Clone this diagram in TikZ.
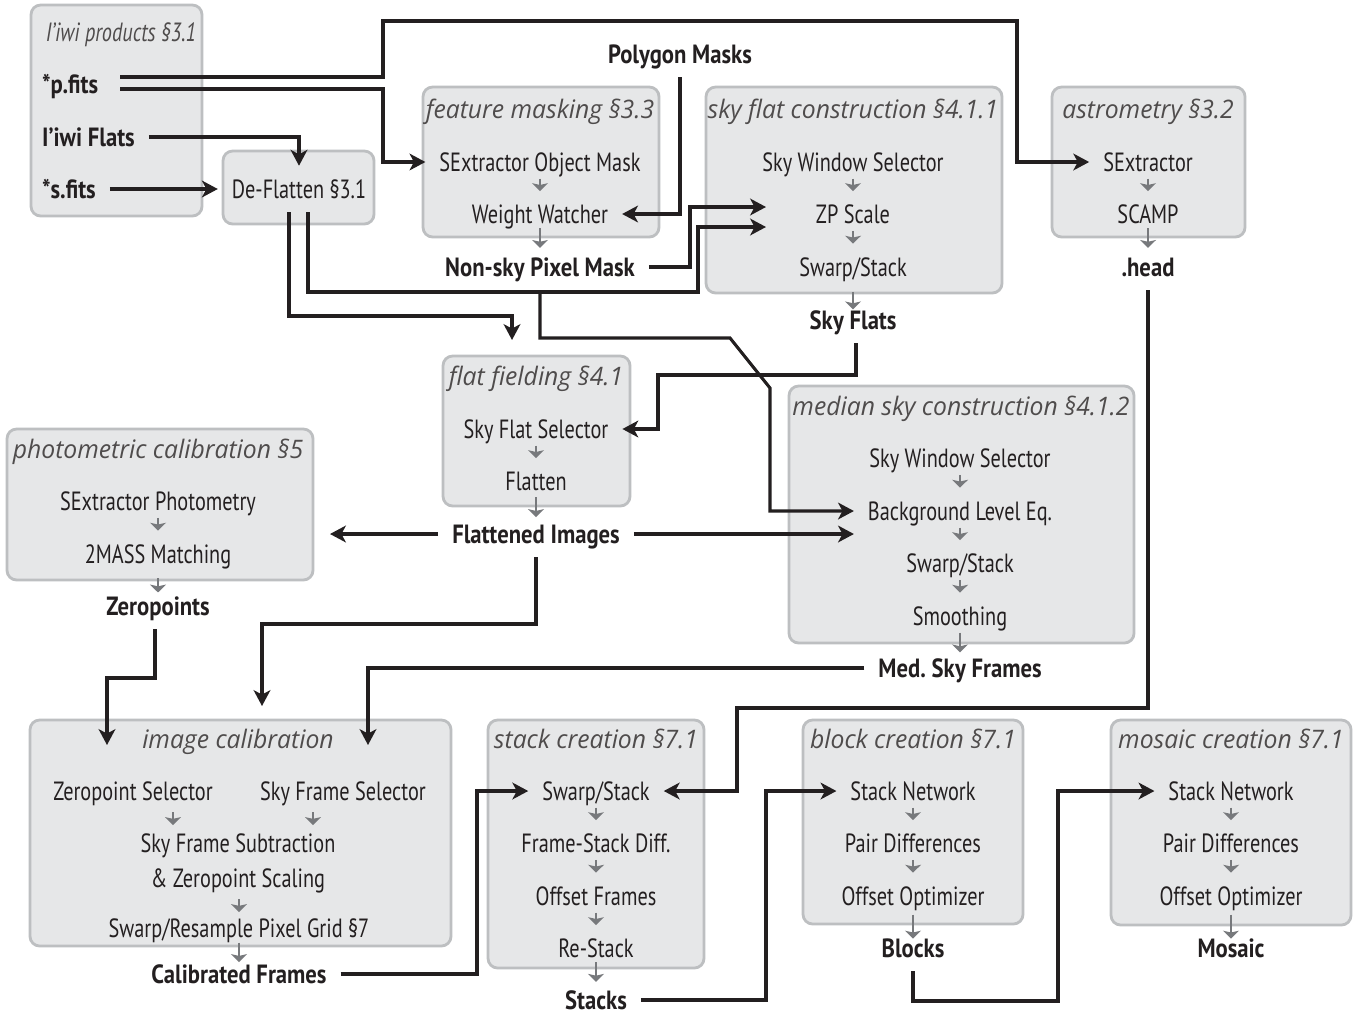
\documentclass[tikz,border=0pt]{standalone}
\usepackage{fontspec}
\setmainfont[FakeStretch=0.77, BoldFeatures={FakeStretch=0.86}]{PT Sans}
\newfontfamily\ttlfont[FakeStretch=0.97]{Open Sans}
\usepackage{xcolor}
\usetikzlibrary{arrows.meta,calc,fit}

\definecolor{boxfill}{HTML}{E6E7E8}
\definecolor{boxline}{HTML}{BDBFC1}
\definecolor{ink}{HTML}{231F20}
\definecolor{subgray}{HTML}{77797C}
\frenchspacing

\begin{document}
\begin{tikzpicture}[x=0.02cm, y=-0.02cm,
    box/.style={rounded corners=5.5pt, draw=boxline, fill=boxfill, line width=1.6pt, inner sep=0pt},
    ttl/.style={font=\ttlfont\itshape\fontsize{14.5}{17}\selectfont, text=ink!80, text height=10.4pt, text depth=0pt, inner sep=0pt},
    proc/.style={font=\fontsize{15}{18}\selectfont, text=ink, text height=10.5pt, text depth=0pt, inner sep=3pt, outer sep=5pt},
    prod/.style={proc, font=\bfseries\fontsize{15}{18}\selectfont},
    flow/.style={draw=ink, line width=1.75pt, -{Stealth[length=9pt,width=9.5pt,inset=2.5pt]}},
    sub/.style={draw=subgray, line width=1.4pt, -{Stealth[length=4.5pt,width=9pt,inset=1pt]}}]

    \path[use as bounding box, fill=white] (0,0) rectangle (1361,1015);

    % Boxes
    \node[box, fit={(31,5) (202,216)}] (iiBox) {};
    \node[box, fit={(223,151) (374,224)}] (dfBox) {};
    \node[box, fit={(423,87) (659,237)}] (fmBox) {};
    \node[box, fit={(706,87) (1002,293)}] (sfBox) {};
    \node[box, fit={(1052,87) (1245,237)}] (asBox) {};
    \node[box, fit={(443,356) (630,506)}] (ffBox) {};
    \node[box, fit={(789,386) (1134,643)}] (msBox) {};
    \node[box, fit={(7,429) (313,580)}] (pcBox) {};
    \node[box, fit={(30,720) (451,946)}] (icBox) {};
    \node[box, fit={(488,720) (704,968)}] (scBox) {};
    \node[box, fit={(803,720) (1023,924)}] (bcBox) {};
    \node[box, fit={(1111,720) (1351,925)}] (mcBox) {};

    % Nodes
    \node[ttl, font=\itshape\fontsize{15}{18}\selectfont] (iiTtl) at (121,32) {I’iwi products §3.1};
    \node[prod, anchor=west] (pfits) at (28,84) {*p.fits};
    \node[prod, anchor=west] (flats) at (28,137) {I’iwi Flats};
    \node[prod, anchor=west] (sfits) at (28,189) {*s.fits};
    \node[proc] (deflat) at (299,189) {De-Flatten §3.1};

    \node[ttl] (fmTtl) at (540,109) {feature masking §3.3};
    \node[proc] (objmask) at (540,162) {SExtractor Object Mask};
    \node[proc] (wwatch) at (540,214) {Weight Watcher};
    \node[prod] (nsmask) at (540,267) {Non-sky Pixel Mask};
    \node[prod] (polym) at (680,54) {Polygon Masks};

    \node[ttl] (sfTtl) at (853,109) {sky flat construction §4.1.1};
    \node[proc] (swsel1) at (853,162) {Sky Window Selector};
    \node[proc] (zpscale) at (853,214) {ZP Scale};
    \node[proc] (sfstack) at (853,267) {Swarp/Stack};
    \node[prod] (skyflats) at (853,320) {Sky Flats};

    \node[ttl] (asTtl) at (1148,109) {astrometry §3.2};
    \node[proc] (sextr) at (1148,162) {SExtractor};
    \node[proc] (scamp) at (1148,214) {SCAMP};
    \node[prod] (head) at (1148,267) {.head};

    \node[ttl] (ffTtl) at (536,376) {flat fielding §4.1};
    \node[proc] (sfsel) at (536,429) {Sky Flat Selector};
    \node[proc] (flatten) at (536,481) {Flatten};
    \node[prod] (flatimg) at (536,534) {Flattened Images};

    \node[ttl] (msTtl) at (961,406) {median sky construction §4.1.2};
    \node[proc] (swsel2) at (960,458) {Sky Window Selector};
    \node[proc] (bglev) at (960,511) {Background Level Eq.};
    \node[proc] (msstack) at (960,563) {Swarp/Stack};
    \node[proc] (smooth) at (960,616) {Smoothing};
    \node[prod] (medsky) at (960,668) {Med. Sky Frames};

    \node[ttl] (pcTtl) at (158,449) {photometric calibration §5};
    \node[proc] (sexphot) at (158,501) {SExtractor Photometry};
    \node[proc] (tmass) at (158,554) {2MASS Matching};
    \node[prod] (zeropts) at (158,606) {Zeropoints};

    \node[ttl] (icTtl) at (238,739) {image calibration};
    \node[proc] (zpsel) at (133,791) {Zeropoint Selector};
    \node[proc] (sfrsel) at (343,791) {Sky Frame Selector};
    \node[proc] (skysub) at (238,843) {Sky Frame Subtraction};
    \node[proc] (zpscal) at (238,878) {\& Zeropoint Scaling};
    \node[proc] (resamp) at (239,928) {Swarp/Resample Pixel Grid §7};
    \node[prod] (calframes) at (239,974) {Calibrated Frames};

    \node[ttl] (scTtl) at (596,739) {stack creation §7.1};
    \node[proc] (scstack) at (596,791) {Swarp/Stack};
    \node[proc] (fsdiff) at (596,843) {Frame-Stack Diff.};
    \node[proc] (offfr) at (596,896) {Offset Frames};
    \node[proc] (restack) at (596,948) {Re-Stack};
    \node[prod] (stacks) at (596,1000) {Stacks};

    \node[ttl] (bcTtl) at (913,739) {block creation §7.1};
    \node[proc] (bnet) at (913,791) {Stack Network};
    \node[proc] (bpair) at (913,843) {Pair Differences};
    \node[proc] (bopt) at (913,896) {Offset Optimizer};
    \node[prod] (blocks) at (913,948) {Blocks};

    \node[ttl] (mcTtl) at (1231,739) {mosaic creation §7.1};
    \node[proc] (mnet) at (1231,791) {Stack Network};
    \node[proc] (mpair) at (1231,843) {Pair Differences};
    \node[proc] (mopt) at (1231,896) {Offset Optimizer};
    \node[prod] (mosaic) at (1231,948) {Mosaic};

    % Free ends
    \coordinate (zpIn1) at (766,207);
    \coordinate (zpIn2) at (766,227);
    \coordinate (ffIn) at (512,340);
    \coordinate (pcIn) at (330,534);
    \coordinate (icInF) at (262,706);
    \coordinate (icInZ) at (107,745);
    \coordinate (icInS) at (368,745);

    % Steps inside boxes
    \foreach \a/\b in {objmask/wwatch, swsel1/zpscale, zpscale/sfstack, sextr/scamp,
        sfsel/flatten, swsel2/bglev, bglev/msstack, msstack/smooth, sexphot/tmass,
        scstack/fsdiff, fsdiff/offfr, offfr/restack, bnet/bpair, bpair/bopt,
        mnet/mpair, mpair/mopt}
        \draw[sub] ($(\a)!0.32!(\b)$) -- ($(\a)!0.56!(\b)$);
    \foreach \a/\b/\s/\e in {wwatch/nsmask/0.27/0.64, sfstack/skyflats/0.47/0.8,
        scamp/head/0.27/0.64, flatten/flatimg/0.31/0.68, smooth/medsky/0.32/0.7,
        tmass/zeropts/0.47/0.74, resamp/calframes/0.32/0.74, restack/stacks/0.27/0.65,
        bopt/blocks/0.36/0.82, mopt/mosaic/0.36/0.82}
        \draw[sub] ($(\a)!\s!(\b)$) -- ($(\a)!\e!(\b)$);
    \draw[sub] ([shift={(40,21)}]zpsel.center) -- ++(0,13);
    \draw[sub] ([shift={(-30,21)}]sfrsel.center) -- ++(0,13);
    \draw[sub] ([shift={(0,-29)}]resamp.center) -- ++(0,13);

    % Edges
    \draw[flow] ([shift={(8,-7)}]pfits.east) -| (383,21) -| (1017,162) -- (sextr.west);
    \draw[flow] ([shift={(8,5)}]pfits.east) -| (383,162) -- (objmask.west);
    \draw[flow] (flats.east) -| (deflat.north);
    \draw[flow] (sfits.east) -- (deflat.west);
    \draw[flow] ([shift={(-10,0)}]deflat.south) |- (512,316) -- (ffIn);
    \draw[flow] ([shift={(9,0)}]deflat.south) |- (698,292) |- (zpIn2);
    \draw[flow] (nsmask.east) -| (690,207) -- (zpIn1);
    \draw[flow] (nsmask.south) |- (730,338) -- (770,388) |- (bglev.west);
    \draw[flow] (polym.south) |- (wwatch.east);
    \draw[flow] ([shift={(3,0)}]skyflats.south) |- (658,375) |- (sfsel.east);
    \draw[flow] (flatimg.east) -- (flatimg.east -| bglev.west);
    \draw[flow] (flatimg.west) -- (pcIn);
    \draw[flow] (flatimg.south) |- (262,624) -- (icInF);
    \draw[flow] ([shift={(-3,0)}]zeropts.south) |- (107,678) -- (icInZ);
    \draw[flow] (medsky.west) -| (icInS);
    \draw[flow] (head.south) |- (737,708) |- (scstack.east);
    \draw[flow] (calframes.east) -| (477,791) -- (scstack.west);
    \draw[flow] (stacks.east) -| (766,791) -- (bnet.west);
    \draw[flow] (blocks.south) |- (1058,1001) |- (mnet.west);
\end{tikzpicture}
\end{document}
